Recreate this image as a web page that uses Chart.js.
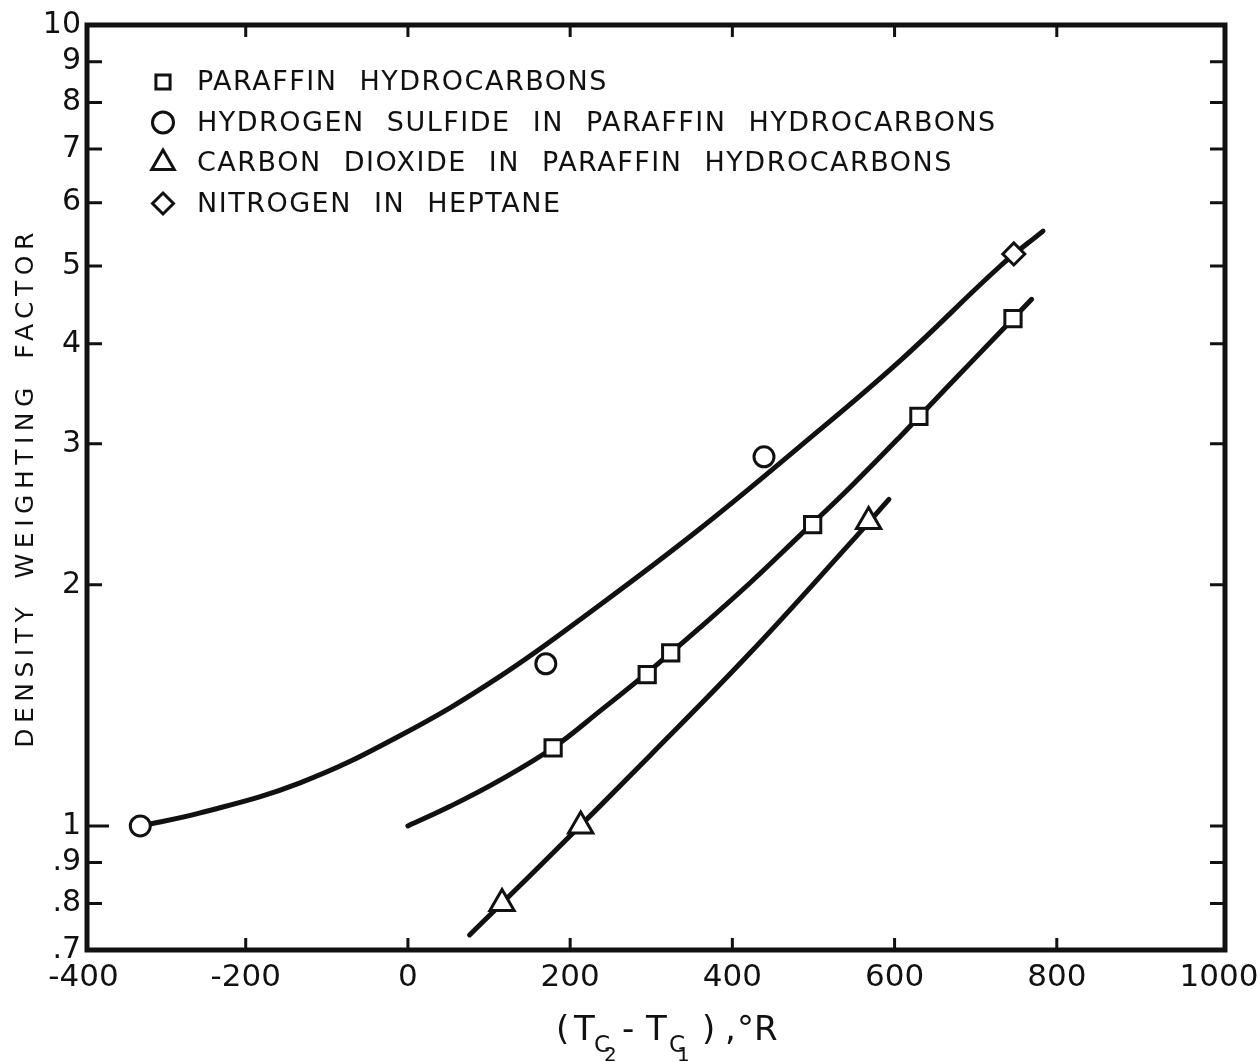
<!DOCTYPE html>
<html>
<head>
<meta charset="utf-8">
<script src="https://cdn.jsdelivr.net/npm/chart.js@4.4.1/dist/chart.umd.min.js"></script>
<style>
  html, body { margin: 0; padding: 0; background: #fff; }
</style>
</head>
<body>
<canvas id="chart" width="1260" height="1062"></canvas>
<script>
// datos (x en °R, y = factor de densidad)
const paraffinX = [179, 295, 324, 499, 630, 746];
const paraffinY = [1.252, 1.545, 1.645, 2.378, 3.245, 4.30];
const h2sX = [-330, 170, 439];
const h2sY = [1.0, 1.594, 2.89];
const co2X = [116, 213, 568];
const co2Y = [0.80, 1.0, 2.40];
const n2X = [747];
const n2Y = [5.178];

// curvas dibujadas a mano en el original
const upperCurveX = [-330, -256, -133, -10, 113, 237, 360, 483, 607, 730, 783];
const upperCurveY = [1.0, 1.038, 1.132, 1.296, 1.536, 1.889, 2.35, 2.976, 3.811, 4.998, 5.53];
const paraffinCurveX = [0, 52, 113, 179, 237, 298, 360, 422, 483, 545, 607, 668, 730, 769];
const paraffinCurveY = [1.0, 1.058, 1.14, 1.252, 1.392, 1.562, 1.768, 2.012, 2.304, 2.646, 3.064, 3.558, 4.133, 4.545];
const co2CurveX = [76, 175, 298, 422, 545, 593];
const co2CurveY = [0.731, 0.917, 1.223, 1.645, 2.253, 2.557];

// ejes
const xMin = -395.7, xMax = 1007.4;
const xTicks = [-400, -200, 0, 200, 400, 600, 800, 1000];
const yTicks = [0.7, 0.8, 0.9, 1, 2, 3, 4, 5, 6, 7, 8, 9, 10];
const yTickLabels = ['.7', '.8', '.9', '1', '2', '3', '4', '5', '6', '7', '8', '9', '10'];

// leyenda
const legendLabels = [
    'PARAFFIN HYDROCARBONS',
    'HYDROGEN SULFIDE IN PARAFFIN HYDROCARBONS',
    'CARBON DIOXIDE IN PARAFFIN HYDROCARBONS',
    'NITROGEN IN HEPTANE'
];
const legendStyles = ['rect', 'circle', 'triangle', 'rectRot'];

const ink = '#111';
const fontFamily = '"DejaVu Sans", sans-serif';

function toPoints(xs, ys) {
    return xs.map((x, i) => ({ x: x, y: ys[i] }));
}

function markerSet(label, xs, ys, style, radius) {
    return {
        label: label,
        data: toPoints(xs, ys),
        pointStyle: style,
        pointRadius: radius,
        pointHoverRadius: radius,
        pointBackgroundColor: '#fff',
        pointBorderColor: ink,
        pointBorderWidth: 3,
        showLine: false,
        order: 0
    };
}

function curveSet(xs, ys) {
    return {
        label: '',
        data: toPoints(xs, ys),
        showLine: true,
        borderColor: ink,
        borderWidth: 5,
        borderCapStyle: 'round',
        pointRadius: 0,
        pointHoverRadius: 0,
        fill: false,
        tension: 0.4,
        order: 1
    };
}

// dibuja un marcador de la leyenda (mismo estilo que los puntos)
function drawMarker(ctx, style, x, y, r) {
    ctx.beginPath();
    if (style === 'circle') {
        ctx.arc(x, y, r, 0, Math.PI * 2);
    } else if (style === 'rect') {
        const h = r * Math.SQRT1_2;
        ctx.rect(x - h, y - h, 2 * h, 2 * h);
    } else if (style === 'triangle') {
        ctx.moveTo(x, y - r);
        ctx.lineTo(x + r * Math.sin(Math.PI / 3), y + r / 2);
        ctx.lineTo(x - r * Math.sin(Math.PI / 3), y + r / 2);
        ctx.closePath();
    } else {
        ctx.moveTo(x, y - r);
        ctx.lineTo(x + r, y);
        ctx.lineTo(x, y + r);
        ctx.lineTo(x - r, y);
        ctx.closePath();
    }
    ctx.fillStyle = '#fff';
    ctx.fill();
    ctx.stroke();
}

const framePlugin = {
    id: 'frame',
    afterDraw(chart) {
        const ctx = chart.ctx;
        const a = chart.chartArea;
        const xs = chart.scales.x;
        const ys = chart.scales.y;
        ctx.save();
        ctx.strokeStyle = ink;
        ctx.fillStyle = ink;

        // marco
        ctx.lineWidth = 5;
        ctx.strokeRect(a.left, a.top, a.right - a.left, a.bottom - a.top);

        // marcas hacia adentro
        ctx.lineWidth = 3;
        ctx.beginPath();
        yTicks.forEach(v => {
            if (v === 0.7 || v === 10) return;
            const p = ys.getPixelForValue(v);
            const len = v === 1 ? 22 : 15;
            ctx.moveTo(a.left, p); ctx.lineTo(a.left + len, p);
            ctx.moveTo(a.right, p); ctx.lineTo(a.right - 15, p);
        });
        xTicks.forEach(v => {
            if (v === -400 || v === 1000) return;
            const p = xs.getPixelForValue(v);
            ctx.moveTo(p, a.bottom); ctx.lineTo(p, a.bottom - 12);
            ctx.moveTo(p, a.top); ctx.lineTo(p, a.top + 12);
        });
        ctx.stroke();

        // leyenda
        ctx.lineWidth = 3;
        const legendRadius = [10, 10.5, 13, 10.5];
        legendLabels.forEach((txt, i) => {
            const y = 82 + i * 40.5;
            drawMarker(ctx, legendStyles[i], a.left + 76, y, legendRadius[i]);
            ctx.fillStyle = ink;
            ctx.font = '27px ' + fontFamily;
            ctx.textAlign = 'left';
            ctx.textBaseline = 'middle';
            ctx.letterSpacing = '1.5px';
            ctx.wordSpacing = '12px';
            ctx.fillText(txt, a.left + 110, y + 1);
        });

        // titulo del eje y
        ctx.save();
        ctx.translate(26, (a.top + a.bottom) / 2);
        ctx.rotate(-Math.PI / 2);
        ctx.font = '25px ' + fontFamily;
        ctx.textAlign = 'center';
        ctx.textBaseline = 'middle';
        ctx.letterSpacing = '5.5px';
        ctx.wordSpacing = '10px';
        ctx.fillText('DENSITY WEIGHTING FACTOR', 0, 0);
        ctx.restore();

        // titulo del eje x con subindices
        ctx.letterSpacing = '0px';
        ctx.wordSpacing = '0px';
        ctx.textAlign = 'left';
        ctx.textBaseline = 'alphabetic';
        const parts = [
            { t: '(', size: 34, dy: 0, at: 0 },
            { t: 'T', size: 34, dy: 0, at: 18 },
            { t: 'C', size: 23, dy: 12, at: 38 },
            { t: '2', size: 20, dy: 21, at: 48 },
            { t: '-', size: 34, dy: 0, at: 66 },
            { t: 'T', size: 34, dy: 0, at: 90 },
            { t: 'C', size: 23, dy: 12, at: 113 },
            { t: '1', size: 20, dy: 21, at: 121 },
            { t: ')', size: 34, dy: 0, at: 146 },
            { t: ',', size: 34, dy: 0, at: 169 },
            { t: '°R', size: 34, dy: 0, at: 181 }
        ];
        const start = (a.left + a.right) / 2 + 7 - 107;
        const base = 1040;
        parts.forEach(p => {
            ctx.font = p.size + 'px ' + fontFamily;
            ctx.fillText(p.t, start + p.at, base + p.dy);
        });
        ctx.restore();
    }
};

const ctx = document.getElementById('chart').getContext('2d');
const chart = new Chart(ctx, {
    type: 'scatter',
    data: {
        datasets: [
            markerSet(legendLabels[0], paraffinX, paraffinY, 'rect', 11.5),
            markerSet(legendLabels[1], h2sX, h2sY, 'circle', 10),
            markerSet(legendLabels[2], co2X, co2Y, 'triangle', 14),
            markerSet(legendLabels[3], n2X, n2Y, 'rectRot', 11),
            curveSet(upperCurveX, upperCurveY),
            curveSet(paraffinCurveX, paraffinCurveY),
            curveSet(co2CurveX, co2CurveY)
        ]
    },
    options: {
        responsive: false,
        animation: false,
        devicePixelRatio: 1,
        layout: { padding: { top: 25, right: 35, left: 0, bottom: 0 } },
        plugins: {
            legend: { display: false },
            tooltip: { enabled: false },
            title: { display: false }
        },
        scales: {
            x: {
                type: 'linear',
                min: xMin,
                max: xMax,
                afterBuildTicks: s => { s.ticks = xTicks.map(v => ({ value: v })); },
                afterFit: s => { s.height = 112; s.paddingLeft = 0; s.paddingRight = 0; },
                grid: { display: false, drawTicks: false },
                border: { display: false },
                ticks: {
                    color: ink,
                    padding: 9,
                    maxRotation: 0,
                    autoSkip: false,
                    font: { family: fontFamily, size: 31 },
                    callback: v => String(v)
                }
            },
            y: {
                type: 'logarithmic',
                min: 0.7,
                max: 10,
                afterBuildTicks: s => { s.ticks = yTicks.map(v => ({ value: v })); },
                afterFit: s => { s.width = 87; },
                grid: { display: false, drawTicks: false },
                border: { display: false },
                ticks: {
                    color: ink,
                    padding: 6,
                    autoSkip: false,
                    font: { family: fontFamily, size: 30 },
                    callback: v => yTickLabels[yTicks.indexOf(v)]
                }
            }
        }
    },
    plugins: [framePlugin]
});
</script>
</body>
</html>
